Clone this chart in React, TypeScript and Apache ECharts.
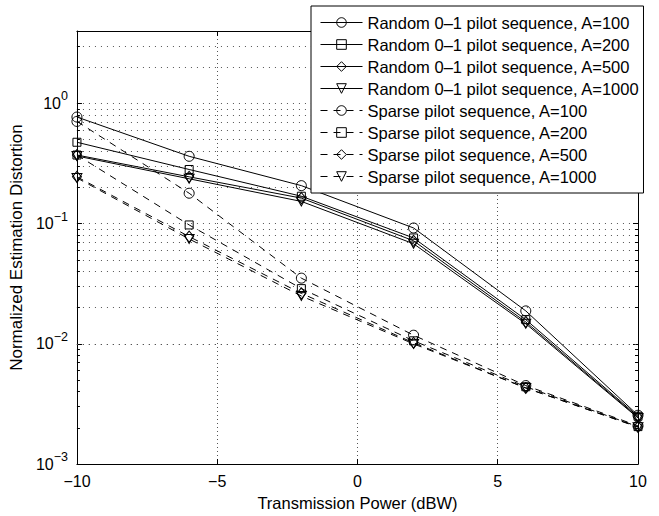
import React, { useEffect, useRef } from "react";
import * as echarts from "echarts";

const powers = [-10, -6, -2, 2, 6, 10];
const random100 = [0.77, 0.363, 0.207, 0.092, 0.0188, 0.00255];
const random200 = [0.475, 0.282, 0.169, 0.076, 0.0159, 0.0025];
const random500 = [0.372, 0.245, 0.163, 0.072, 0.0152, 0.00245];
const random1000 = [0.365, 0.236, 0.153, 0.068, 0.0147, 0.00242];
const sparse100 = [0.708, 0.179, 0.0352, 0.0118, 0.0045, 0.00208];
const sparse200 = [0.372, 0.0975, 0.0288, 0.0106, 0.0044, 0.00205];
const sparse500 = [0.245, 0.078, 0.0263, 0.0102, 0.0043, 0.00204];
const sparse1000 = [0.24, 0.0745, 0.025, 0.01, 0.0043, 0.00203];

const seriesNames = [
  "Random 0\u20131 pilot sequence, A=100",
  "Random 0\u20131 pilot sequence, A=200",
  "Random 0\u20131 pilot sequence, A=500",
  "Random 0\u20131 pilot sequence, A=1000",
  "Sparse pilot sequence, A=100",
  "Sparse pilot sequence, A=200",
  "Sparse pilot sequence, A=500",
  "Sparse pilot sequence, A=1000",
];
const seriesValues = [
  random100, random200, random500, random1000,
  sparse100, sparse200, sparse500, sparse1000,
];
const xMin = -10;
const xMax = 10;
const yMin = 0.001;
const yMax = 4;

const FONT = "'Liberation Sans', Arial, Helvetica, sans-serif";

export default function App() {
  const ref = useRef<HTMLDivElement>(null);
  useEffect(() => {
    if (!ref.current) return;
    const chart = echarts.init(ref.current, null, { renderer: "svg" });

    const markers: any[] = [
      { symbol: "circle", size: 10, rotate: 0 },
      { symbol: "rect", size: 8, rotate: 0 },
      { symbol: "diamond", size: [9, 11], rotate: 0 },
      { symbol: "triangle", size: [10, 9], rotate: 180 },
    ];

    const series: any[] = seriesValues.map((vals, i) => {
      const m = markers[i % 4];
      const dashed = i >= 4;
      return {
        name: seriesNames[i],
        type: "line",
        data: powers.map((p, j) => [p, vals[j]]),
        symbol: m.symbol,
        symbolSize: m.size,
        symbolRotate: m.rotate,
        showSymbol: true,
        clip: false,
        z: 5,
        lineStyle: {
          color: "#000",
          width: 1,
          type: dashed ? [7, 6] : "solid",
        },
        itemStyle: {
          color: "rgba(0,0,0,0)",
          borderColor: "#000",
          borderWidth: 1,
        },
        emphasis: { disabled: true },
      };
    });

    const minorVals: number[] = [];
    for (let d = -3; d <= 0; d++) {
      for (let k = 2; k <= 9; k++) {
        const v = k * Math.pow(10, d);
        if (v < yMax) minorVals.push(v);
      }
    }

    series.push({
      name: "grid-minor",
      type: "line",
      data: [],
      silent: true,
      z: 1,
      markLine: {
        silent: true,
        symbol: "none",
        label: { show: false },
        animation: false,
        lineStyle: { color: "#555", width: 1, type: [1, 5] },
        emphasis: { disabled: true },
        data: minorVals.map((v) => ({ yAxis: v })),
      },
    });

    // short minor ticks on the left and right edges (log minor ticks)
    const tickLen = (xMax - xMin) * 3 / 566;
    const tickData: any[] = [];
    minorVals.forEach((v) => {
      tickData.push([{ coord: [xMin, v] }, { coord: [xMin + tickLen, v] }]);
      tickData.push([{ coord: [xMax - tickLen, v] }, { coord: [xMax, v] }]);
    });
    series.push({
      name: "minor-ticks",
      type: "line",
      data: [],
      silent: true,
      z: 2,
      markLine: {
        silent: true,
        symbol: "none",
        label: { show: false },
        animation: false,
        lineStyle: { color: "#000", width: 1, type: "solid" },
        emphasis: { disabled: true },
        data: tickData,
      },
    });

    const isPow10 = (v: number) => {
      const l = Math.log10(v);
      return Math.abs(l - Math.round(l)) < 1e-6;
    };

    chart.setOption({
      animation: false,
      backgroundColor: "#fff",
      textStyle: { fontFamily: FONT },
      grid: { left: 72, right: 21, top: 31, bottom: 44 },
      legend: {
        show: true,
        data: seriesNames,
        orient: "vertical",
        left: 311,
        top: 6,
        itemWidth: 42,
        itemHeight: 12,
        itemGap: 5,
        padding: [8, 4, 8, 9],
        backgroundColor: "#fff",
        borderColor: "#000",
        borderWidth: 1,
        selectedMode: false,
        z: 20,
        lineStyle: { width: 1, color: "#000" },
        itemStyle: { borderWidth: 1, borderColor: "#000", color: "rgba(0,0,0,0)" },
        textStyle: {
          fontSize: 16.5,
          color: "#000",
          fontFamily: FONT,
        },
      },
      xAxis: [
        {
          type: "value",
          min: xMin,
          max: xMax,
          interval: 5,
          name: "Transmission Power (dBW)",
          nameLocation: "middle",
          nameGap: 26,
          nameTextStyle: { fontSize: 16.5, color: "#000", fontFamily: FONT },
          axisLine: { show: true, onZero: false, lineStyle: { color: "#000", width: 1 } },
          axisTick: { show: true, inside: true, length: 5, lineStyle: { color: "#000" } },
          axisLabel: {
            fontSize: 16,
            color: "#000",
            margin: 9,
            fontFamily: FONT,
            formatter: (v: number) =>
              v < 0 ? "\u2212" + Math.abs(v) : String(v),
          },
          splitLine: {
            show: true,
            lineStyle: { color: "#555", width: 1, type: [1, 3] },
          },
        },
        {
          type: "value",
          position: "top",
          min: xMin,
          max: xMax,
          interval: 5,
          axisLine: { show: true, onZero: false, lineStyle: { color: "#000", width: 1 } },
          axisTick: { show: true, inside: true, length: 5, lineStyle: { color: "#000" } },
          axisLabel: { show: false },
          splitLine: { show: false },
        },
      ],
      yAxis: [
        {
          type: "log",
          logBase: 10,
          min: yMin,
          max: yMax,
          name: "Normalized Estimation Distortion",
          nameLocation: "middle",
          nameGap: 45,
          nameTextStyle: { fontSize: 17, color: "#000", fontFamily: FONT },
          axisLine: { show: true, onZero: false, lineStyle: { color: "#000", width: 1 } },
          axisTick: { show: true, inside: true, length: 5, lineStyle: { color: "#000" } },
          axisLabel: {
            margin: 9,
            color: "#000",
            formatter: (v: number) => {
              if (!isPow10(v)) return "";
              const e = Math.round(Math.log10(v));
              const s = e < 0 ? "\u2212" + Math.abs(e) : String(e);
              return "{b|10}{s|" + s + "}";
            },
            rich: {
              b: { fontSize: 16, color: "#000", fontFamily: FONT },
              s: {
                fontSize: 12.5,
                color: "#000",
                fontFamily: FONT,
                padding: [0, 0, 14, 0],
              },
            },
          },
          splitLine: {
            show: true,
            lineStyle: { color: "#555", width: 1, type: [1, 5] },
          },
        },
        {
          type: "log",
          logBase: 10,
          min: yMin,
          max: yMax,
          position: "right",
          axisLine: { show: true, onZero: false, lineStyle: { color: "#000", width: 1 } },
          axisTick: { show: true, inside: true, length: 5, lineStyle: { color: "#000" } },
          axisLabel: { show: false },
          splitLine: { show: false },
        },
      ],
      series,
    });

    return () => chart.dispose();
  }, []);

  return (
    <div
      ref={ref}
      style={{ position: "fixed", left: 0, top: 0, width: 659, height: 516 }}
    />
  );
}
